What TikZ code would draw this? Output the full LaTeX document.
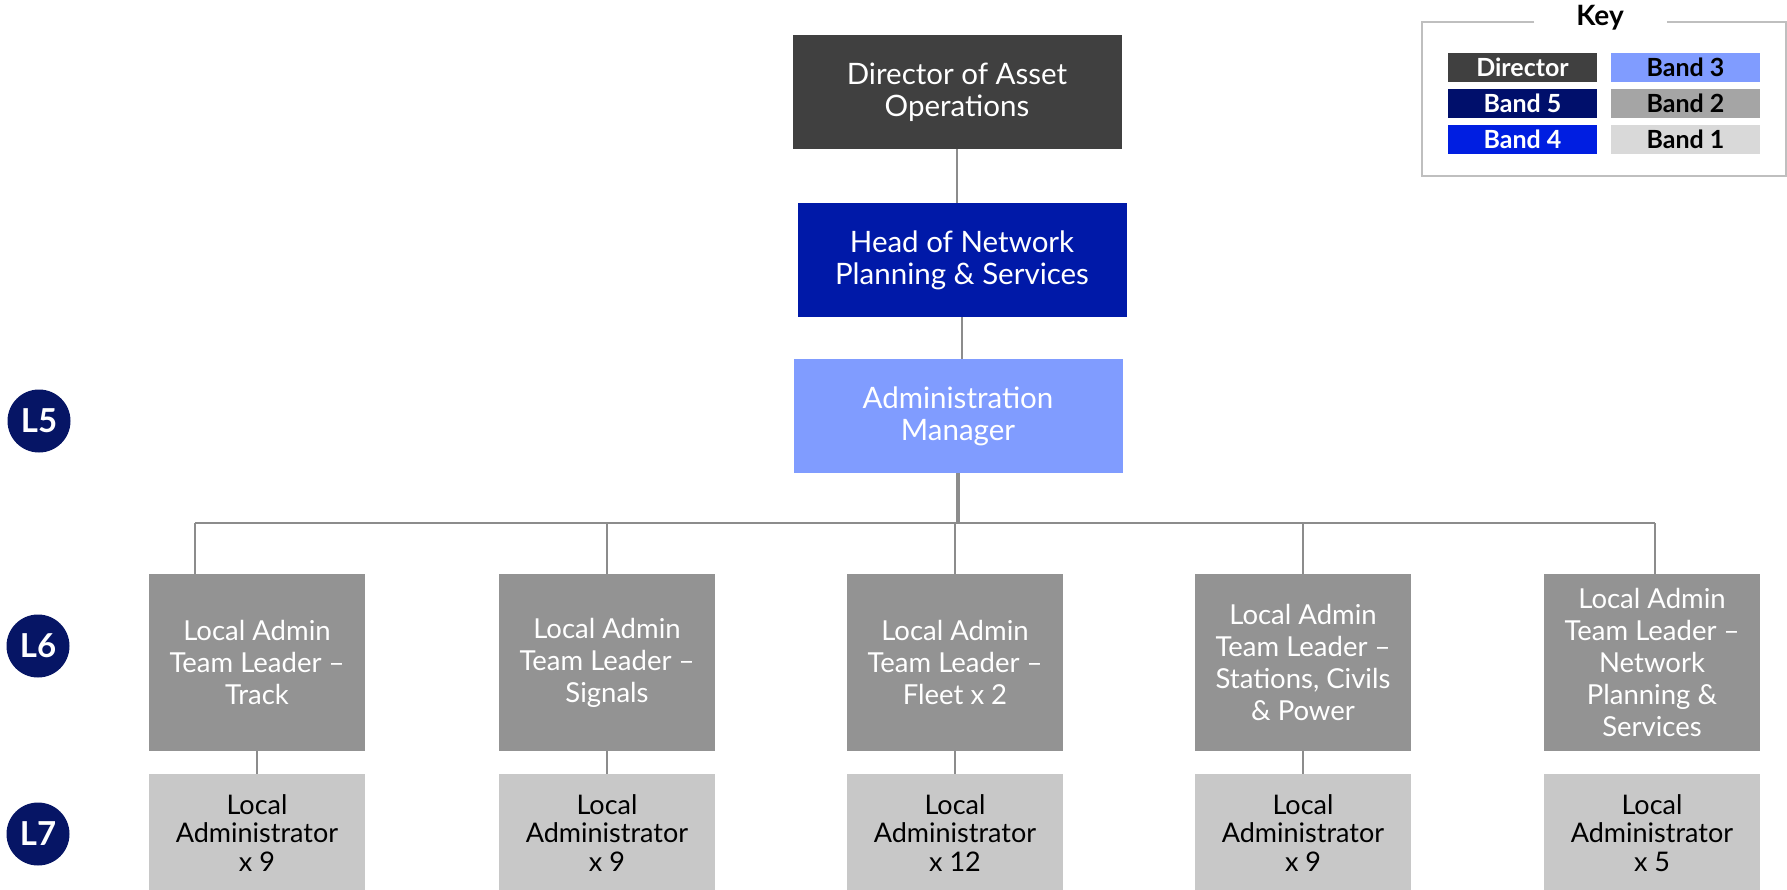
\documentclass[tikz,border=0pt]{standalone}
\usepackage{fontspec}
\setmainfont{Lato}
\definecolor{dirc}{HTML}{404040}
\definecolor{headc}{HTML}{0019A8}
\definecolor{amc}{HTML}{809CFF}
\definecolor{tlc}{HTML}{939393}
\definecolor{lac}{HTML}{C8C8C8}
\definecolor{kb5}{HTML}{000F6B}
\definecolor{kb4}{HTML}{001EE1}
\definecolor{kb2}{HTML}{A5A5A5}
\definecolor{kb1}{HTML}{D9D9D9}
\definecolor{circc}{HTML}{061565}
\definecolor{connc}{HTML}{8C8C8C}
\definecolor{keyframe}{HTML}{BFBFBF}
\begin{document}
\begin{tikzpicture}[x=1pt,y=-1pt,
  box/.style={rectangle, draw=none, align=center, inner sep=0pt},
  topbox/.style={box, minimum width=329pt, minimum height=114pt, text=white, font=\fontsize{29.5}{32}\selectfont},
  tlbox/.style={box, fill=tlc, minimum width=216pt, minimum height=177pt, text=white, font=\fontsize{27.5}{32}\selectfont},
  labox/.style={box, fill=lac, minimum width=216pt, minimum height=118pt, text=black, font=\fontsize{27}{28.5}\selectfont},
  conn/.style={draw=connc, line width=2pt},
  lvl/.style={circle, fill=circc, minimum size=63pt, inner sep=0pt, text=white, font=\fontsize{33}{33}\selectfont\bfseries},
  keyentry/.style={box, minimum width=149pt, minimum height=29pt, font=\fontsize{25}{25}\selectfont\bfseries}
]
\useasboundingbox (0,0) rectangle (1787,890);
\fill[white] (0,0) rectangle (1787,890);

% top chain
\node[topbox, fill=dirc] (dir) at (957,92) {Director of Asset\\Operations};
\node[topbox, fill=headc] (head) at (962,260) {Head of Network\\Planning \& Services};
\node[topbox, fill=amc] (am) at (958,416) {Administration\\Manager};

% team leaders
\node[tlbox] (t1) at (257,662.5) {Local Admin\\Team Leader –\\Track};
\node[tlbox] (t2) at (607,662.5) {Local Admin\\Team Leader –\\Signals};
\node[tlbox] (t3) at (955,662.5) {Local Admin\\Team Leader –\\Fleet x 2};
\node[tlbox] (t4) at (1303,662.5) {Local Admin\\Team Leader –\\Stations, Civils\\\& Power};
\node[tlbox] (t5) at (1652,662.5) {Local Admin\\Team Leader –\\Network\\Planning \&\\Services};

% local administrators
\node[labox] (a1) at (257,833) {Local\\Administrator\\x 9};
\node[labox] (a2) at (607,833) {Local\\Administrator\\x 9};
\node[labox] (a3) at (955,833) {Local\\Administrator\\x 12};
\node[labox] (a4) at (1303,833) {Local\\Administrator\\x 9};
\node[labox] (a5) at (1652,833) {Local\\Administrator\\x 5};

% connectors
\draw[conn] (dir.south) -- (dir.south |- head.north);
\draw[conn] (head.south) -- (head.south |- am.north);
\coordinate (bl) at (195,523);
\coordinate (br) at (1655,523);
\draw[conn] (bl) -- (br);
\draw[conn, line width=3.5pt] (am.south) -- (am.south |- bl);
\draw[conn] (bl) -- (bl |- t1.north);
\draw[conn] (t2.north |- bl) -- (t2.north);
\draw[conn] (t3.north |- bl) -- (t3.north);
\draw[conn] (t4.north |- bl) -- (t4.north);
\draw[conn] (br) -- (br |- t5.north);
\draw[conn] (t1.south) -- (a1.north);
\draw[conn] (t2.south) -- (a2.north);
\draw[conn] (t3.south) -- (a3.north);
\draw[conn] (t4.south) -- (a4.north);

% level markers
\node[lvl] (l5) at (39,421) {L5};
\node[lvl] (l6) at (38,646) {L6};
\node[lvl] (l7) at (38,834) {L7};

% key
\draw[draw=keyframe, line width=2pt] (1534,22) -- (1422,22) -- (1422,176) -- (1786,176) -- (1786,22) -- (1667,22);
\node[font=\fontsize{28}{28}\selectfont\bfseries] (keyt) at (1600,18) {Key};
\node[keyentry, fill=dirc, text=white] (kd) at (1522.5,67.5) {Director};
\node[keyentry, fill=kb5, text=white] (k5) at (1522.5,103.5) {Band 5};
\node[keyentry, fill=kb4, text=white] (k4) at (1522.5,139.5) {Band 4};
\node[keyentry, fill=amc, text=black] (k3) at (1685.5,67.5) {Band 3};
\node[keyentry, fill=kb2, text=black] (k2) at (1685.5,103.5) {Band 2};
\node[keyentry, fill=kb1, text=black] (k1) at (1685.5,139.5) {Band 1};
\end{tikzpicture}
\end{document}
